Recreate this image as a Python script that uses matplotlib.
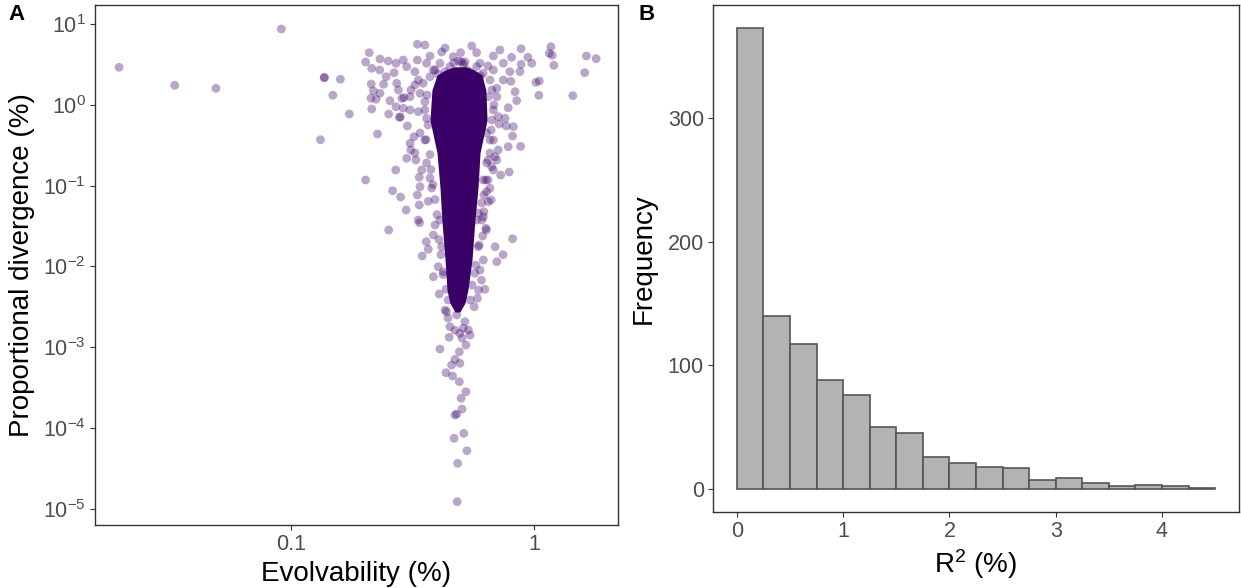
import numpy as np
import matplotlib
matplotlib.use("Agg")
import matplotlib.pyplot as plt

plt.rcParams['font.family'] = ['Liberation Sans', 'DejaVu Sans']
plt.rcParams['mathtext.fontset'] = 'custom'
plt.rcParams['mathtext.rm'] = 'Liberation Sans'
plt.rcParams['mathtext.it'] = 'Liberation Sans:italic'
plt.rcParams['mathtext.default'] = 'regular'

## PANEL A: scattered genes (log10 of % values)
log_evo = [-1.708, -1.479, -1.309, -1.040, -0.864, -0.862, -0.797, -0.828, -0.760, -0.879,
           -0.693, -0.644, -0.569, -0.582, -0.549, -0.526, -0.598, -0.471, -0.460, -0.435,
           -0.443, -0.088, -0.127, -0.153, -0.160, -0.208, -0.198, -0.211, -0.222, -0.202,
           -0.233, -0.246, -0.055, -0.102, 0.160, 0.209, 0.216, 0.256, 0.070, 0.063,
           0.075, 0.082, 0.020, 0.008, 0.022, -0.025, -0.009, -0.053, -0.053, -0.058,
           -0.693, -0.678, -0.668, -0.634, -0.600, -0.670, -0.661, -0.671, -0.650, -0.634,
           -0.668, -0.593, -0.598, -0.565, -0.558, -0.544, -0.568, -0.538, -0.554, -0.550,
           -0.524, -0.506, -0.480, -0.449, -0.480, -0.490, -0.510, -0.538, -0.476, -0.442,
           -0.380, -0.387, -0.332, -0.302, -0.256, -0.236, -0.222, -0.167, -0.140, -0.126,
           -0.092, -0.099, -0.078, -0.071, -0.106, -0.085, -0.119, -0.153, -0.126, -0.167,
           -0.521, -0.510, -0.507, -0.524, -0.480, -0.472, -0.435, -0.472, -0.088, -0.106,
           -0.137, -0.167, -0.181, -0.188, -0.206, -0.153, -0.147, -0.476, -0.414, -0.407,
           -0.394, -0.414, -0.390, -0.362, -0.366, -0.360, -0.318, -0.291, -0.305, -0.346,
           -0.349, -0.270, -0.280, -0.387, -0.307, -0.325, -0.305, -0.339, -0.362, -0.335,
           -0.307, -0.280, -0.300, -0.296, -0.318, -0.325, -0.289, -0.329, -0.276, -0.314,
           -0.316, -0.284, -0.263, -0.354, -0.296, -0.325, -0.568, -0.494, -0.486, -0.469,
           -0.535, -0.576, -0.635, -0.608, -0.619, -0.095, -0.114, -0.143, -0.176, -0.160,
           -0.189, -0.176, -0.208, -0.196, -0.216, -0.228, -0.428, -0.366, -0.284, -0.189,
           -0.407, -0.263, -0.346, -0.440, -0.449, -0.436, -0.444, -0.428, -0.424, -0.416,
           -0.407, -0.399, -0.391, -0.383, -0.374, -0.173, -0.165, -0.173, -0.181, -0.189,
           -0.198, -0.206, -0.214, -0.226, -0.239, -0.255,
           # points hugging the edge of the dense core
           -0.469, -0.449, -0.490, -0.442, -0.462, -0.428, -0.421, -0.195, -0.167, -0.181,
           -0.195, -0.174, -0.209, -0.195, -0.215, -0.229, -0.346, -0.298, -0.277, -0.236,
           -0.209, -0.181, -0.153, -0.188, -0.167, -0.147, -0.428, -0.456, -0.469, -0.449,
           -0.476, -0.442, -0.414, -0.366, -0.490, -0.510, -0.387, -0.380, -0.373, -0.353,
           -0.236, -0.229, -0.243, -0.263, -0.330, -0.310, -0.290, -0.395, -0.220]
log_div = [0.464, 0.241, 0.204, 0.938, 0.335, 0.338, 0.316, 0.118, -0.114, -0.432,
           -0.931, -0.361, -0.807, -1.063, -1.141, -1.302, -1.550, -1.459, -1.871, -1.788,
           -1.694, -1.657, -1.855, -1.942, -1.756, -1.921, -1.528, -1.624, -2.045, -2.283,
           -2.395, -2.499, -0.514, -0.832, 0.113, 0.397, 0.604, 0.571, 0.719, 0.637,
           0.613, 0.489, 0.118, 0.278, 0.295, 0.588, 0.514, 0.694, 0.501, 0.410,
           0.530, 0.645, 0.452, 0.567, 0.542, 0.257, 0.171, 0.080, 0.068, 0.142,
           -0.052, 0.051, -0.114, 0.266, 0.183, 0.080, 0.514, 0.554, -0.155, -0.150,
           0.472, 0.183, 0.749, 0.740, 0.554, 0.410, -0.064, -0.043, 0.307, 0.514,
           0.653, 0.514, 0.595, 0.645, 0.728, 0.645, 0.514, 0.604, 0.678, 0.514,
           0.588, 0.410, 0.162, 0.051, -0.036, -0.271, -0.167, 0.100, 0.307, 0.431,
           -0.262, -0.476, -0.559, -0.662, -1.116, -0.897, -1.194, -1.240, -0.386, -0.519,
           -0.869, -0.807, -1.033, -1.199, -1.323, -0.683, -0.559, -1.426, -1.611, -1.488,
           -2.004, -2.127, -2.342, -2.283, -2.540, -2.560, -2.601, -2.766, -2.828, -2.746,
           -2.877, -2.787, -2.973, -3.022, -3.056, -3.150, -3.199, -3.220, -3.316, -3.356,
           -3.427, -3.551, -3.632, -3.765, -3.827, -3.839, -4.066, -4.127, -4.281, -4.437,
           -4.912, -2.684, -2.849, -2.639, -2.886, -2.790, -0.024, -0.395, -0.683, -1.014,
           0.088, 0.397, 0.431, 0.348, 0.254, 0.291, -0.262, -0.238, -0.312, -0.642,
           -0.931, -1.178, -1.385, -1.550, -2.170, -2.293, 0.604, 0.703, 0.530, 0.480,
           0.431, 0.406, 0.369, 0.121, -0.064, -0.250, -0.431, -0.616, -0.802, -0.988,
           -1.173, -1.359, -1.668, -1.854, -2.101, 0.183, -0.002, -0.188, -0.436, -0.683,
           -0.931, -1.116, -1.426, -1.735, -1.983, -2.230,
           -0.349, -0.436, -0.597, -0.720, -0.807, -0.906, -1.030, -0.349, -0.436, -0.597,
           -0.720, -0.766, -0.931, -1.075, -1.215, -1.339, 0.472, 0.533, 0.431, 0.472,
           0.390, 0.307, 0.204, 0.100, -0.064, -0.147, 0.348, 0.266, 0.142, 0.038,
           -0.085, -0.167, 0.431, 0.410, 0.245, 0.100, -1.426, -1.756, -2.066, -2.416,
           -1.426, -1.756, -2.085, -2.416, 0.520, 0.540, 0.500, 0.380, 0.360]

# dense core of the cloud: outline (log10) where the points pile up into a solid mass
core_log_div = [0.470, 0.430, 0.369, 0.183, -0.188, -0.596, -1.017, -1.426, -1.921, -2.292, -2.453, -2.564]
core_log_left = [-0.330, -0.365, -0.399, -0.420, -0.428, -0.399, -0.387, -0.379, -0.366, -0.358, -0.346, -0.325]
core_log_right = [-0.280, -0.245, -0.214, -0.198, -0.193, -0.222, -0.230, -0.243, -0.255, -0.272, -0.284, -0.305]

## PANEL B: histogram of R2
bin_starts = [0, 0.25, 0.5, 0.75, 1.0, 1.25, 1.5, 1.75, 2.0, 2.25, 2.5, 2.75, 3.0, 3.25, 3.5, 3.75, 4.0, 4.25]
counts = [373, 140, 117, 88, 76, 50, 45, 26, 21, 18, 17, 7, 9, 5, 2, 3, 2, 1]

purple = '#3B0068'
tick_grey = '#4D4D4D'
line_grey = '#333333'

fig = plt.figure(figsize=(12.41, 5.88), dpi=100)
axA = fig.add_axes([95/1241, 1-525/588, 523/1241, 520/588])
axB = fig.add_axes([713/1241, 1-512/588, 526/1241, 507/588])

evo = 10**np.array(log_evo)
div = 10**np.array(log_div)
axA.fill_betweenx(10**np.array(core_log_div), 10**np.array(core_log_left),
                  10**np.array(core_log_right), color=purple, lw=0, zorder=1)
axA.scatter(evo, div, s=40, color=purple, alpha=0.35, edgecolors='none', zorder=2)
axA.set_xscale('log')
axA.set_yscale('log')
axA.set_xlim(10**-1.807, 10**0.346)
axA.set_ylim(10**-5.2, 10**1.235)
axA.set_xticks([0.1, 1])
axA.set_xticklabels(['0.1', '1'])
axA.set_yticks([10.0**k for k in [1, 0, -1, -2, -3, -4, -5]])
axA.set_yticklabels([r'$10^{%d}$' % k for k in [1, 0, -1, -2, -3, -4, -5]])
axA.minorticks_off()
axA.set_xlabel('Evolvability (%)', fontsize=20, labelpad=4)
axA.set_ylabel('Proportional divergence (%)', fontsize=20, labelpad=6)

axB.bar(bin_starts, counts, width=0.25, align='edge', color='#B3B3B3',
        edgecolor='#555555', linewidth=1.2)
axB.set_xlim(-0.225, 4.725)
axB.set_ylim(-18.65, 391.65)
axB.set_xticks([0, 1, 2, 3, 4])
axB.set_yticks([0, 100, 200, 300])
axB.set_xlabel(r'R$^2$ (%)', fontsize=20, labelpad=4)
axB.set_ylabel('Frequency', fontsize=20, labelpad=8)

for ax in (axA, axB):
    for sp in ax.spines.values():
        sp.set_color(line_grey)
        sp.set_linewidth(1.0)
    ax.tick_params(axis='both', length=3.5, width=0.8, color=line_grey,
                   labelcolor=tick_grey, labelsize=15.5, pad=3)

fig.text(8/1241, 1-4/588, 'A', fontsize=16, fontweight='bold', va='top', ha='left')
fig.text(639/1241, 1-4/588, 'B', fontsize=16, fontweight='bold', va='top', ha='left')

fig.savefig('out.png', dpi=100)
